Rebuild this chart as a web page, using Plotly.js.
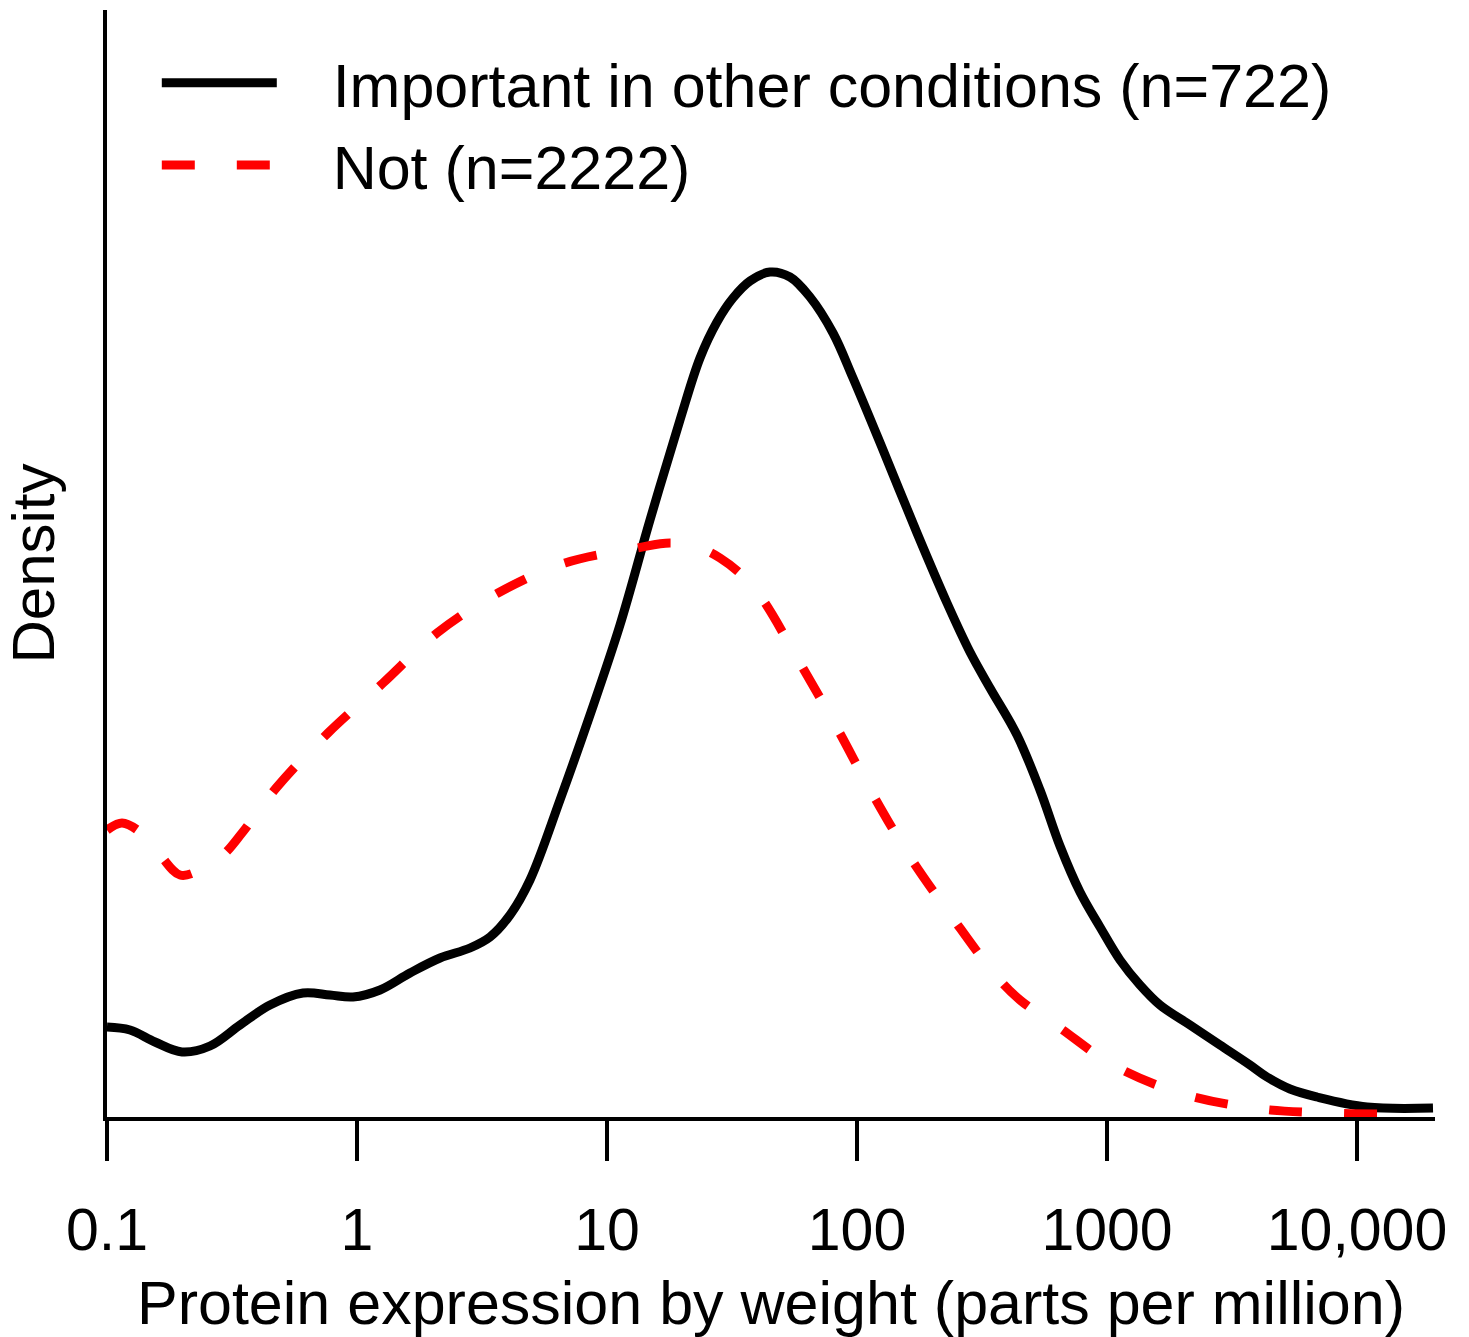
<!DOCTYPE html>
<html>
<head>
<meta charset="utf-8">
<script src="https://cdn.plot.ly/plotly-3.0.1.min.js"></script>
<style>
  html, body { margin: 0; padding: 0; background: #ffffff; }
  #chart { width: 1469px; height: 1337px; }
</style>
</head>
<body>
<div id="chart"></div>
<script>
// Protein expression (ppm) and estimated density, "Important in other conditions" (n=722)
const importantX = [0.1, 0.1236, 0.1556, 0.1995, 0.2582, 0.3404, 0.4487, 0.6081, 0.7798, 0.9638,
  1.236, 1.629, 2.148, 2.831, 3.404, 4.093, 4.920, 6.486, 8.551, 11.27,
  14.86, 19.59, 23.55, 27.54, 31.92, 37.33, 44.87, 53.95, 64.86, 80.17,
  96.38, 127.1, 173.8, 229.1, 283.1, 340.4, 436.5, 539.5, 648.6, 779.8,
  937.6, 1127, 1355, 1629, 2148, 2831, 3733, 4365, 5395, 6918,
  10965, 20137];
const importantY = [0.090, 0.087, 0.075, 0.065, 0.071, 0.092, 0.112, 0.124, 0.122, 0.120,
  0.127, 0.144, 0.159, 0.169, 0.180, 0.202, 0.237, 0.317, 0.402, 0.492,
  0.597, 0.697, 0.759, 0.795, 0.819, 0.836, 0.845, 0.840, 0.820, 0.784,
  0.739, 0.667, 0.584, 0.514, 0.465, 0.429, 0.382, 0.327, 0.271, 0.225,
  0.190, 0.157, 0.132, 0.112, 0.092, 0.072, 0.052, 0.040, 0.028, 0.020,
  0.010, 0.009];

// "Not" (n=2222)
const notX = [0.1, 0.1148, 0.1355, 0.1629, 0.1959, 0.2355, 0.2911, 0.3467, 0.4786, 0.7656,
  1.271, 2.089, 3.664, 6.792, 13.18, 17.86, 22.91, 28.31, 35.65, 42.07,
  59.16, 83.18, 114.8, 162.9, 239.9, 363.1, 448.7, 648.6, 1057, 1959,
  3837, 7586, 17378];
const notY = [0.287, 0.294, 0.285, 0.262, 0.242, 0.247, 0.262, 0.284, 0.330, 0.384,
  0.434, 0.484, 0.524, 0.554, 0.569, 0.574, 0.570, 0.559, 0.539, 0.517,
  0.454, 0.389, 0.324, 0.260, 0.200, 0.140, 0.117, 0.089, 0.052, 0.024,
  0.009, 0.004, 0.003];

const seriesNames = ["Important in other conditions (n=722)", "Not (n=2222)"];
const tickValues = [0.1, 1, 10, 100, 1000, 10000];
const tickLabels = ["0.1", "1", "10", "100", "1000", "10,000"];
const xTitle = "Protein expression by weight (parts per million)";
const yTitle = "Density";

const FONT = "Liberation Sans, Arial, Helvetica, sans-serif";
const LEGEND_PAD = "\u00A0\u00A0\u00A0";

const traces = [
  {
    x: importantX, y: importantY, name: LEGEND_PAD + seriesNames[0],
    type: "scatter", mode: "lines",
    line: { color: "#000000", width: 9, shape: "spline", smoothing: 1 }
  },
  {
    x: notX, y: notY, name: LEGEND_PAD + seriesNames[1],
    type: "scatter", mode: "lines",
    line: { color: "#ff0000", width: 9, shape: "spline", smoothing: 1, dash: "33px,42px" }
  }
];

const layout = {
  width: 1469, height: 1337,
  paper_bgcolor: "#ffffff", plot_bgcolor: "#ffffff",
  margin: { l: 107, r: 34, t: 10, b: 220, pad: 0 },
  font: { family: FONT, size: 60, color: "#000000" },
  showlegend: true,
  legend: {
    x: 0.0375, y: 0.976, xanchor: "left", yanchor: "top",
    bgcolor: "rgba(0,0,0,0)", borderwidth: 0,
    font: { family: FONT, size: 61, color: "#000000" },
    itemwidth: 115, tracegroupgap: 0
  },
  xaxis: {
    type: "log",
    range: [-1, 4.312],
    tickmode: "array", tickvals: tickValues, ticktext: tickLabels,
    ticks: "outside", ticklen: 40, tickwidth: 4, tickcolor: "#000000",
    ticklabelstandoff: 18,
    tickfont: { family: FONT, size: 59, color: "#000000" },
    showline: true, linewidth: 4, linecolor: "#000000",
    showgrid: false, zeroline: false,
    title: { text: xTitle, font: { family: FONT, size: 61, color: "#000000" }, standoff: 30 }
  },
  yaxis: {
    range: [0, 1.107],
    showticklabels: false, ticks: "",
    showline: true, linewidth: 4, linecolor: "#000000",
    showgrid: false, zeroline: false,
    title: { text: yTitle, font: { family: FONT, size: 60, color: "#000000" }, standoff: 30 }
  }
};

Plotly.newPlot("chart", traces, layout, { displayModeBar: false, staticPlot: true });
</script>
</body>
</html>
